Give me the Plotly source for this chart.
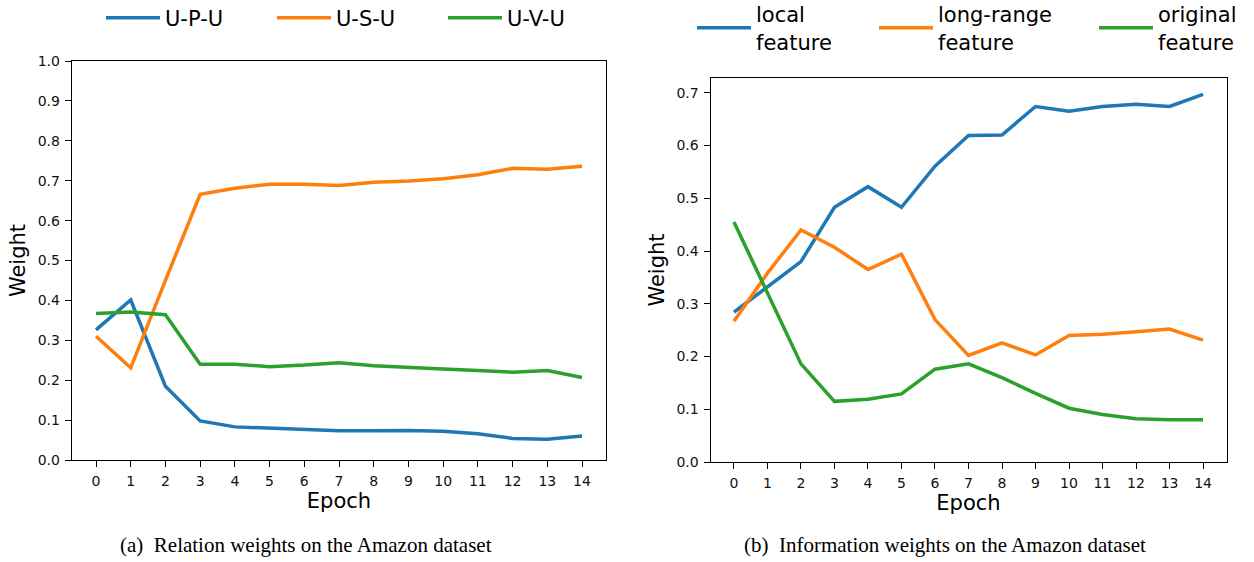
import plotly.graph_objects as go

# ---- data ----
epochs = list(range(15))
epoch_labels = [str(e) for e in epochs]

relation_names = ["U-P-U", "U-S-U", "U-V-U"]
upu = [0.326, 0.401, 0.185, 0.098, 0.083, 0.079, 0.075, 0.073, 0.073, 0.074, 0.072, 0.066, 0.054, 0.052, 0.060]
usu = [0.310, 0.231, 0.450, 0.666, 0.681, 0.691, 0.691, 0.688, 0.696, 0.699, 0.705, 0.715, 0.731, 0.729, 0.736]
uvu = [0.367, 0.371, 0.364, 0.240, 0.240, 0.234, 0.238, 0.244, 0.236, 0.231, 0.228, 0.224, 0.220, 0.224, 0.207]

info_names = ["local<br>feature", "long-range<br>feature", "original<br>feature"]
local_feat = [0.284, 0.332, 0.380, 0.483, 0.522, 0.483, 0.561, 0.619, 0.620, 0.674, 0.665, 0.674, 0.678, 0.674, 0.697]
longrange_feat = [0.267, 0.358, 0.440, 0.407, 0.365, 0.394, 0.270, 0.202, 0.226, 0.203, 0.240, 0.242, 0.247, 0.252, 0.231]
original_feat = [0.455, 0.320, 0.186, 0.115, 0.119, 0.129, 0.176, 0.186, 0.160, 0.130, 0.102, 0.090, 0.082, 0.080, 0.080]

left_yticks = [round(0.1 * i, 1) for i in range(11)]
right_yticks = [round(0.1 * i, 1) for i in range(8)]

captions = ["(a)  Relation weights on the Amazon dataset",
            "(b)  Information weights on the Amazon dataset"]

colors = ["#1f77b4", "#ff7f0e", "#2ca02c"]

W, H = 1254, 562


def px(x):
    return x / W


def py(y):
    return 1 - y / H


fig = go.Figure()

left_series = [upu, usu, uvu]
right_series = [local_feat, longrange_feat, original_feat]
legend_ids = ["legend", "legend2", "legend3", "legend4", "legend5", "legend6"]

for i, (name, ys) in enumerate(zip(relation_names, left_series)):
    fig.add_trace(go.Scatter(x=epochs, y=ys, mode="lines", name=name,
                             line=dict(color=colors[i], width=3.5),
                             xaxis="x", yaxis="y", legend=legend_ids[i]))
for i, (name, ys) in enumerate(zip(info_names, right_series)):
    fig.add_trace(go.Scatter(x=epochs, y=ys, mode="lines", name=name,
                             line=dict(color=colors[i], width=3.5),
                             xaxis="x2", yaxis="y2", legend=legend_ids[3 + i]))

axis_common = dict(showline=True, mirror=True, linecolor="black", linewidth=1,
                   ticks="outside", ticklen=6, tickwidth=1, tickcolor="black",
                   ticklabelstandoff=2,
                   showgrid=False, zeroline=False,
                   tickfont=dict(family="DejaVu Sans", size=14, color="#111"))

title_font = dict(family="DejaVu Sans", size=21, color="black")

layout = dict(
    width=W, height=H,
    margin=dict(l=0, r=0, t=0, b=0, autoexpand=False),
    paper_bgcolor="white", plot_bgcolor="white",
    xaxis=dict(domain=[px(71.7), px(606.3)], range=[-0.7, 14.7],
               tickvals=epochs, ticktext=epoch_labels, anchor="y",
               title=dict(text="Epoch", font=title_font, standoff=4), **axis_common),
    yaxis=dict(domain=[py(460), py(61)], range=[0, 1.0],
               tickvals=left_yticks, tickformat=".1f", anchor="x",
               title=dict(text="Weight", font=title_font, standoff=6), **axis_common),
    xaxis2=dict(domain=[px(710.5), px(1226.5)], range=[-0.7, 14.7],
                tickvals=epochs, ticktext=epoch_labels, anchor="y2",
                title=dict(text="Epoch", font=title_font, standoff=4), **axis_common),
    yaxis2=dict(domain=[py(462), py(78)], range=[0, 0.728],
                tickvals=right_yticks, tickformat=".1f", anchor="x2",
                title=dict(text="Weight", font=title_font, standoff=6), **axis_common),
    showlegend=True,
)

legend_line_start = [103, 274, 445, 694, 876, 1096]
legend_y = [18, 18, 18, 28, 28, 28]
for lid, lx, ly in zip(legend_ids, legend_line_start, legend_y):
    layout[lid] = dict(x=px(lx - 2), y=py(ly), xanchor="left", yanchor="middle",
                       orientation="h", itemwidth=54, bgcolor="rgba(0,0,0,0)",
                       borderwidth=0, font=dict(family="DejaVu Sans", size=21, color="black"))

fig.update_layout(**layout)

for cx, text in zip([306, 945], captions):
    fig.add_annotation(x=px(cx), y=py(545), xref="paper", yref="paper",
                       text=text, showarrow=False, xanchor="center", yanchor="middle",
                       font=dict(family="Liberation Serif", size=21, color="black"))

fig.write_html("out.html",
               config={"displayModeBar": False},
               post_script="document.body.style.margin='0';document.body.style.padding='0';")
